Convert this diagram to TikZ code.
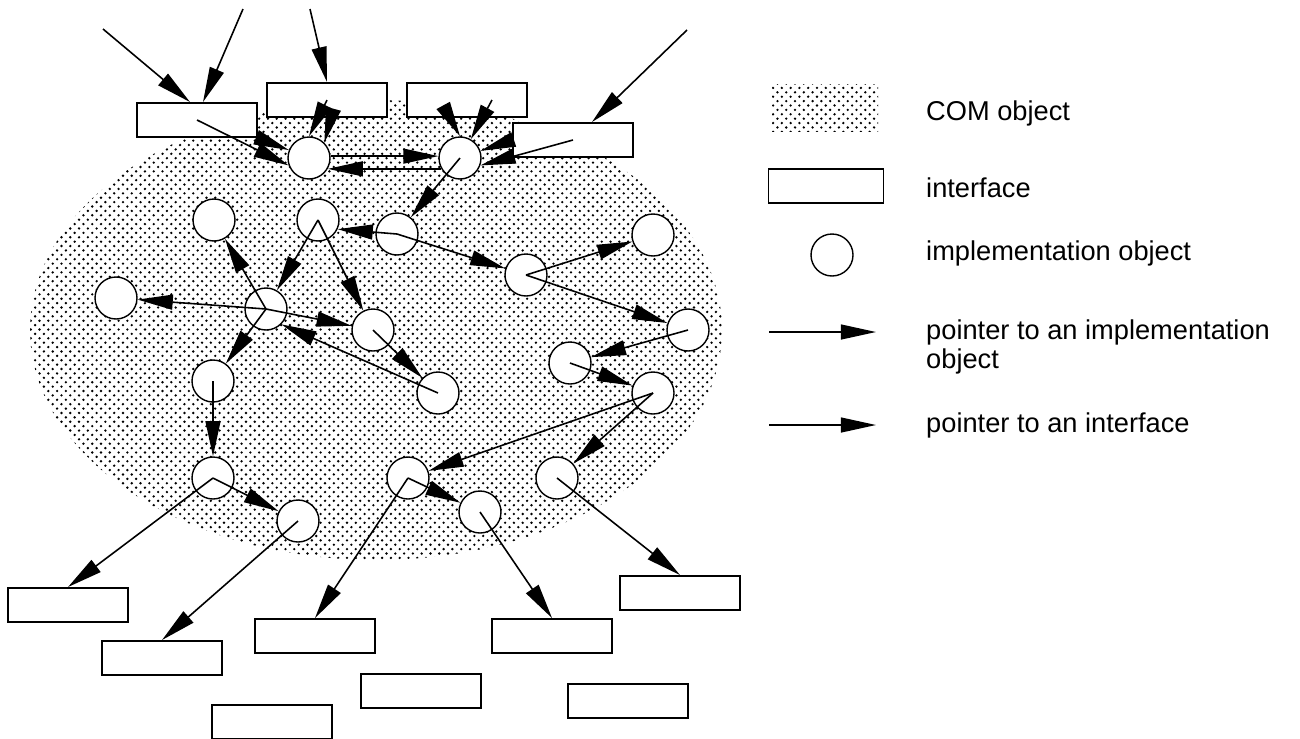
\documentclass[tikz,border=0pt]{standalone}
\usepackage{fontspec}
\setmainfont{Liberation Sans}
\usetikzlibrary{arrows.meta, patterns}

% staggered dot screen for the object body
\pgfdeclarepatternformonly{comdots}{\pgfqpoint{-1pt}{-1pt}}{\pgfqpoint{6pt}{6pt}}{\pgfqpoint{5pt}{5pt}}%
{
  \pgfpathcircle{\pgfqpoint{0pt}{0pt}}{.75pt}
  \pgfpathcircle{\pgfqpoint{2.5pt}{2.5pt}}{.75pt}
  \pgfusepath{fill}
}

\tikzset{
  iface/.style={draw, line width=1.1pt, fill=white, minimum width=2.4cm, minimum height=0.68cm, inner sep=0pt},
  impl/.style={circle, draw, line width=0.8pt, fill=white, minimum size=0.84cm, inner sep=0pt},
  ptr/.style={-{Triangle[length=20pt,width=8.5pt]}, line width=0.9pt},
  legend/.style={anchor=west, align=left, font=\fontsize{15.5}{17}\selectfont},
}

\begin{document}
\begin{tikzpicture}[x=0.02cm, y=-0.02cm]
  \useasboundingbox (0,0) rectangle (1300,738);
  % the COM object itself
  \fill[pattern=comdots] (376,330) ellipse [x radius=6.92cm, y radius=4.6cm];

  % interfaces (top row, then the ones below the object)
  \foreach \n/\x/\y in {i1/197/120, i2/327/100, i3/467/100, i4/573/140,
      b1/68/605, b2/162/658, b3/315/636, b4/421/691,
      b5/272/722, b6/552/636, b7/680/593, b8/628/701}
    \node[iface] (\n) at (\x,\y) {};

  % implementation objects
  \foreach \n/\x/\y in {oa/309/158, ob/460/158, oc/318/220, od/397/234,
      oe/526/275, of/373/330, og/570/363, oh/266/309, oi/438/393,
      oj/653/393, ok/213/478, ol/408/478, om/557/478, on/298/521,
      oo/480/512, op/214/220, oq/653/235, or/116/298, os/688/330, ot/213/381}
    \node[impl] (\n) at (\x,\y) {};

  % loose ends of the pointers coming from outside
  \coordinate (s1) at (103,29);
  \coordinate (s2) at (243,9);
  \coordinate (s3) at (310,9);
  \coordinate (s4) at (687,30);

  \draw[ptr] (s1) -- ([xshift=-0.14cm]i1.north);
  \draw[ptr] (s2) -- ([xshift=0.12cm]i1.north);
  \draw[ptr] (s3) -- (i2.north);
  \draw[ptr] (s4) -- ([xshift=0.38cm]i4.north);

  % interfaces pointing at their implementation objects
  \draw[ptr] (i1.center) -- (oa.200);
  \draw[ptr] (i1.south east) -- (oa);
  \draw[ptr] (i2.center) -- (oa.north);
  \draw[ptr] ([xshift=0.08cm]i2.south) -- (oa.45);
  \draw[ptr] ([xshift=0.5cm]i3.center) -- (ob.60);
  \draw[ptr] ([xshift=-0.34cm]i3.south) -- (ob.north);
  \draw[ptr] (i4.west) -- (ob);
  \draw[ptr] (i4.center) -- (ob.-20);
  \draw[ptr] (oa.5) -- (ob.175);
  \draw[ptr] (ob.-150) -- (oa.-30);

  % pointers between implementation objects and out to the interfaces
  \foreach \a/\b in {ob/od, od/oc.-25, oc/oh, oc/of, oh/op, oh/or, oh/of,
      oh/ot, oi/oh.-45, of/oi, ot/ok, od/oe, oe/oq, oe/os, os/og, og/oj,
      oj/ol, oj/om, ol/oo, ok/on, ok/b1.north, on/b2.north, ol/b3.north,
      oo/b6.north, om/b7.north}
    \draw[ptr] (\a.center) -- (\b);

  % legend
  \node[pattern=comdots, minimum width=2.12cm, minimum height=0.94cm, inner sep=0pt] (kcom) at (825,108) {};
  \node[iface, minimum width=2.3cm] (kif) at (826,186) {};
  \node[impl] (kimpl) at (832,255) {};
  \coordinate (k1a) at (769,332);
  \coordinate (k1b) at (876,332);
  \coordinate (k2a) at (769,425);
  \coordinate (k2b) at (876,425);
  \draw[ptr] (k1a) -- (k1b);
  \draw[ptr] (k2a) -- (k2b);

  \node[legend] (tcom) at (920,113) {COM object};
  \node[legend] (tif) at (920,188) {interface};
  \node[legend] (timpl) at (920,253) {implementation object};
  \node[legend] (tptr1) at (920,347) {pointer to an implementation\\object};
  \node[legend] (tptr2) at (920,425) {pointer to an interface};
\end{tikzpicture}
\end{document}
